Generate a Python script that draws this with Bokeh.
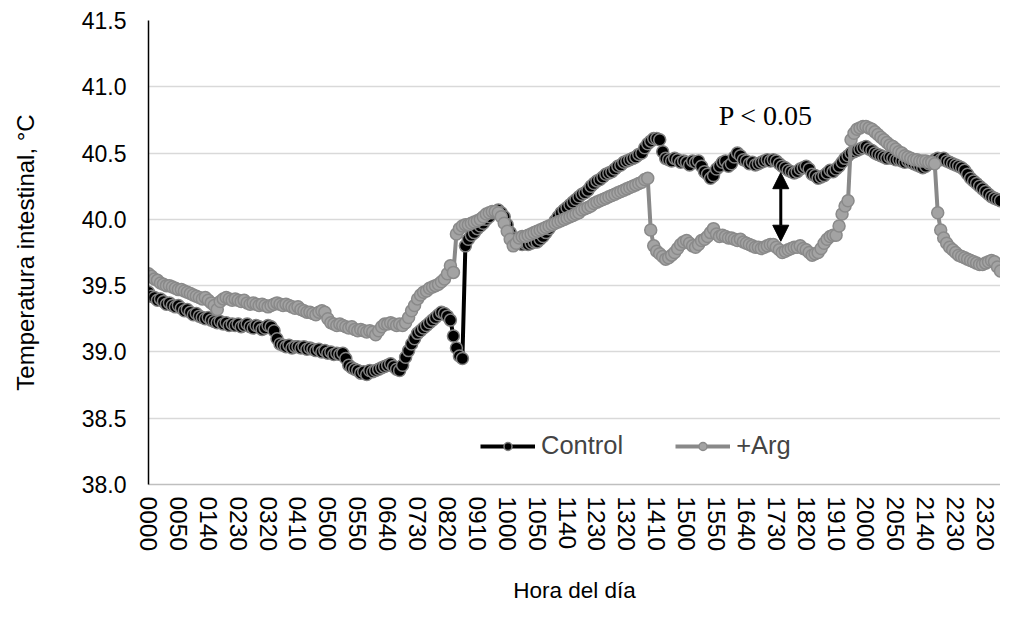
from bokeh.plotting import figure
from bokeh.models import (Range1d, FixedTicker, Legend, LegendItem, Arrow,
                          NormalHead, Label, PrintfTickFormatter)
from bokeh.embed import file_html
from bokeh.resources import INLINE

# ---- data (5-minute readings, 0000 .. 2345) ----
control = [
    39.45, 39.42, 39.41, 39.39, 39.40, 39.38, 39.36, 39.37, 39.35, 39.34,
    39.35, 39.33, 39.31, 39.32, 39.30, 39.28, 39.29, 39.27, 39.26, 39.25,
    39.26, 39.24, 39.23, 39.22, 39.23, 39.21, 39.22, 39.20, 39.21, 39.20,
    39.21, 39.19, 39.20, 39.21, 39.19, 39.18, 39.20, 39.19, 39.17, 39.18,
    39.20, 39.19, 39.16, 39.10, 39.06, 39.05, 39.04, 39.05, 39.03, 39.04,
    39.04, 39.03, 39.04, 39.02, 39.03, 39.02, 39.01, 39.02, 39.00, 39.01,
    38.99, 39.00, 38.98, 38.99, 38.98, 38.99, 38.95, 38.90, 38.88, 38.87,
    38.86, 38.84, 38.85, 38.83, 38.86, 38.85, 38.86, 38.87, 38.88, 38.89,
    38.90, 38.91, 38.89, 38.87, 38.86, 38.90, 38.96, 39.01, 39.06, 39.10,
    39.14, 39.16, 39.18, 39.20, 39.22, 39.24, 39.26, 39.28, 39.30, 39.29,
    39.27, 39.24, 39.12, 39.03, 38.97, 38.95, 39.80, 39.85, 39.88, 39.90,
    39.93, 39.95, 39.97, 40.00, 40.02, 40.05, 40.06, 40.07, 40.05, 40.02,
    39.96, 39.90, 39.86, 39.84, 39.82, 39.81, 39.82, 39.81, 39.82, 39.83,
    39.83, 39.85, 39.87, 39.90, 39.93, 39.96, 39.99, 40.02, 40.05, 40.07,
    40.09, 40.11, 40.13, 40.15, 40.17, 40.19, 40.20, 40.22, 40.25, 40.27,
    40.29, 40.30, 40.32, 40.34, 40.35, 40.36, 40.38, 40.40, 40.41, 40.43,
    40.44, 40.45, 40.46, 40.47, 40.49, 40.50, 40.54, 40.57, 40.59, 40.61,
    40.61, 40.60, 40.51, 40.46, 40.45, 40.44, 40.46, 40.45, 40.43, 40.44,
    40.43, 40.41, 40.44, 40.43, 40.44, 40.40, 40.36, 40.34, 40.31, 40.33,
    40.38, 40.40, 40.43, 40.44, 40.40, 40.42, 40.47, 40.50, 40.48, 40.45,
    40.44, 40.42, 40.43, 40.41, 40.42, 40.43, 40.44, 40.45, 40.44, 40.45,
    40.44, 40.42, 40.40, 40.39, 40.37, 40.36, 40.35, 40.36, 40.38, 40.39,
    40.40, 40.38, 40.34, 40.33, 40.31, 40.32, 40.33, 40.35, 40.37, 40.36,
    40.38, 40.40, 40.43, 40.46, 40.48, 40.50, 40.51, 40.52, 40.53, 40.54,
    40.55, 40.53, 40.52, 40.50, 40.49, 40.48, 40.47, 40.46, 40.47, 40.46,
    40.45, 40.45, 40.44, 40.43, 40.44, 40.43, 40.42, 40.41, 40.40, 40.39,
    40.40, 40.42, 40.43, 40.45, 40.46, 40.45, 40.46, 40.44, 40.43, 40.42,
    40.41, 40.40, 40.39, 40.37, 40.34, 40.31, 40.29, 40.27, 40.25, 40.23,
    40.21, 40.19, 40.17, 40.16, 40.15, 40.14,
]

arg = [
    39.59, 39.57, 39.55, 39.54, 39.52, 39.51, 39.50, 39.50, 39.49, 39.48,
    39.47, 39.47, 39.46, 39.45, 39.44, 39.43, 39.42, 39.41, 39.40, 39.41,
    39.39, 39.37, 39.35, 39.32, 39.38, 39.40, 39.41, 39.40, 39.39, 39.40,
    39.39, 39.38, 39.39, 39.37, 39.36, 39.37, 39.36, 39.35, 39.36, 39.35,
    39.34, 39.35, 39.36, 39.37, 39.36, 39.35, 39.36, 39.35, 39.34, 39.33,
    39.34, 39.32, 39.31, 39.30, 39.30, 39.29, 39.28, 39.30, 39.31, 39.30,
    39.25, 39.22, 39.21, 39.20, 39.21, 39.20, 39.19, 39.18, 39.19, 39.17,
    39.16, 39.17, 39.16, 39.15, 39.16, 39.15, 39.13, 39.16, 39.19, 39.21,
    39.21, 39.22, 39.21, 39.20, 39.21, 39.20, 39.22, 39.26, 39.31, 39.35,
    39.40, 39.43, 39.45, 39.46, 39.48, 39.49, 39.50, 39.51, 39.53, 39.55,
    39.59, 39.65, 39.60, 39.89, 39.93, 39.95, 39.96, 39.96, 39.97, 39.98,
    39.99, 40.00, 40.02, 40.04, 40.05, 40.06, 40.06, 40.05, 40.02, 39.97,
    39.91, 39.85, 39.80, 39.82, 39.86, 39.87, 39.87, 39.88, 39.89, 39.90,
    39.91, 39.92, 39.93, 39.94, 39.95, 39.96, 39.97, 39.98, 39.99, 40.00,
    40.01, 40.02, 40.03, 40.04, 40.05, 40.07, 40.08, 40.09, 40.10, 40.12,
    40.13, 40.14, 40.15, 40.16, 40.17, 40.18, 40.19, 40.20, 40.21, 40.22,
    40.23, 40.24, 40.25, 40.26, 40.27, 40.28, 40.30, 40.31, 39.92, 39.80,
    39.76, 39.74, 39.72, 39.70, 39.71, 39.73, 39.75, 39.78, 39.81, 39.83,
    39.84, 39.82, 39.80, 39.79, 39.81, 39.84, 39.85, 39.87, 39.90, 39.93,
    39.89, 39.87, 39.88, 39.87, 39.86, 39.86, 39.85, 39.84, 39.85, 39.83,
    39.82, 39.81, 39.80, 39.79, 39.79, 39.78, 39.79, 39.80, 39.81, 39.81,
    39.79, 39.77, 39.75, 39.76, 39.77, 39.78, 39.79, 39.79, 39.80, 39.78,
    39.77, 39.75, 39.73, 39.74, 39.75, 39.78, 39.82, 39.85, 39.87, 39.88,
    39.88, 39.95, 40.04, 40.10, 40.14, 40.60, 40.65, 40.68, 40.69, 40.70,
    40.70, 40.69, 40.68, 40.66, 40.64, 40.62, 40.60, 40.58, 40.56, 40.55,
    40.53, 40.51, 40.50, 40.48, 40.47, 40.46, 40.45, 40.45, 40.44, 40.44,
    40.44, 40.43, 40.43, 40.42, 40.05, 39.92, 39.86, 39.82, 39.79, 39.77,
    39.75, 39.73, 39.72, 39.71, 39.70, 39.69, 39.68, 39.67, 39.66, 39.66,
    39.67, 39.68, 39.69, 39.68, 39.64, 39.61,
]

tick_labels = ["0000", "0050", "0140", "0230", "0320", "0410", "0500", "0550",
               "0640", "0730", "0820", "0910", "1000", "1050", "1140", "1230",
               "1320", "1410", "1500", "1550", "1640", "1730", "1820", "1910",
               "2000", "2050", "2140", "2230", "2320"]
y_ticks = [38.0, 38.5, 39.0, 39.5, 40.0, 40.5, 41.0, 41.5]
series_names = ["Control", "+Arg"]

# annotation placement (index units / degrees C)
ARROW_X = 211.5
ARROW_Y0, ARROW_Y1 = 39.835, 40.352
P_X, P_Y = 206.5, 40.785

FONT = "Liberation Sans"

x_c = list(range(len(control)))
x_a = list(range(len(arg)))

p = figure(width=1000, height=606, x_range=Range1d(0, 285.0),
           y_range=Range1d(38.0, 41.5), output_backend="svg",
           toolbar_location=None, min_border_left=148, min_border_right=0,
           min_border_top=20, min_border_bottom=120)
p.outline_line_color = None
p.xgrid.grid_line_color = None
p.ygrid.grid_line_color = "#d9d9d9"
p.ygrid.grid_line_width = 1.5

cl = p.line(x_c, control, line_color="black", line_width=4)
cs = p.scatter(x_c, control, size=12, fill_color="black",
               line_color="#808080", line_width=1.5)
al = p.line(x_a, arg, line_color="#898989", line_width=4)
as_ = p.scatter(x_a, arg, size=12, fill_color="#a3a3a3",
                line_color="#8a8a8a", line_width=1.5)

# axes
p.xaxis.ticker = FixedTicker(ticks=[i * 10 for i in range(len(tick_labels))])
p.xaxis.major_label_overrides = {i * 10: t for i, t in enumerate(tick_labels)}
p.xaxis.major_label_orientation = "vertical"
p.xaxis.axis_line_color = "#bfbfbf"
p.xaxis.axis_line_width = 1.5
p.xaxis.major_tick_line_color = None
p.xaxis.major_tick_out = 0
p.xaxis.major_tick_in = 0
p.xaxis.minor_tick_line_color = None
p.xaxis.major_label_standoff = 12
p.xaxis.axis_label = "Hora del día"
p.xaxis.axis_label_standoff = 24
p.xaxis.major_label_text_font_size = "24.5px"
p.xaxis.axis_label_text_font_size = "22.5px"

p.yaxis.ticker = FixedTicker(ticks=y_ticks)
p.yaxis.formatter = PrintfTickFormatter(format="%.1f")
p.yaxis.axis_line_color = "black"
p.yaxis.axis_line_width = 1.5
p.yaxis.major_tick_line_color = None
p.yaxis.major_tick_out = 0
p.yaxis.major_tick_in = 0
p.yaxis.minor_tick_line_color = None
p.yaxis.major_label_standoff = 22
p.yaxis.axis_label = "Temperatura intestinal, °C"
p.yaxis.axis_label_standoff = 40
p.yaxis.major_label_text_font_size = "23px"
p.yaxis.axis_label_text_font_size = "24px"

for ax in (p.xaxis, p.yaxis):
    ax.major_label_text_font = FONT
    ax.major_label_text_color = "black"
    ax.axis_label_text_font = FONT
    ax.axis_label_text_font_style = "normal"
    ax.axis_label_text_color = "black"

legend = Legend(items=[LegendItem(label=series_names[0], renderers=[cl, cs]),
                       LegendItem(label=series_names[1], renderers=[al, as_])],
                orientation="horizontal", location=(332, 24),
                background_fill_alpha=0, border_line_color=None,
                glyph_width=55, glyph_height=20, label_height=20,
                label_standoff=6, spacing=52, padding=0, margin=0,
                label_text_font=FONT, label_text_font_size="25.5px")
p.add_layout(legend)

p.add_layout(Arrow(start=NormalHead(size=16, fill_color="black", line_color="black"),
                   end=NormalHead(size=16, fill_color="black", line_color="black"),
                   x_start=ARROW_X, y_start=ARROW_Y0, x_end=ARROW_X, y_end=ARROW_Y1,
                   line_width=3, line_color="black"))

p.add_layout(Label(x=P_X, y=P_Y, text="P < 0.05", text_font="Liberation Serif",
                   text_font_size="28px", text_align="center",
                   text_baseline="middle", text_color="black"))

open("out.html", "w").write(file_html(p, INLINE))
